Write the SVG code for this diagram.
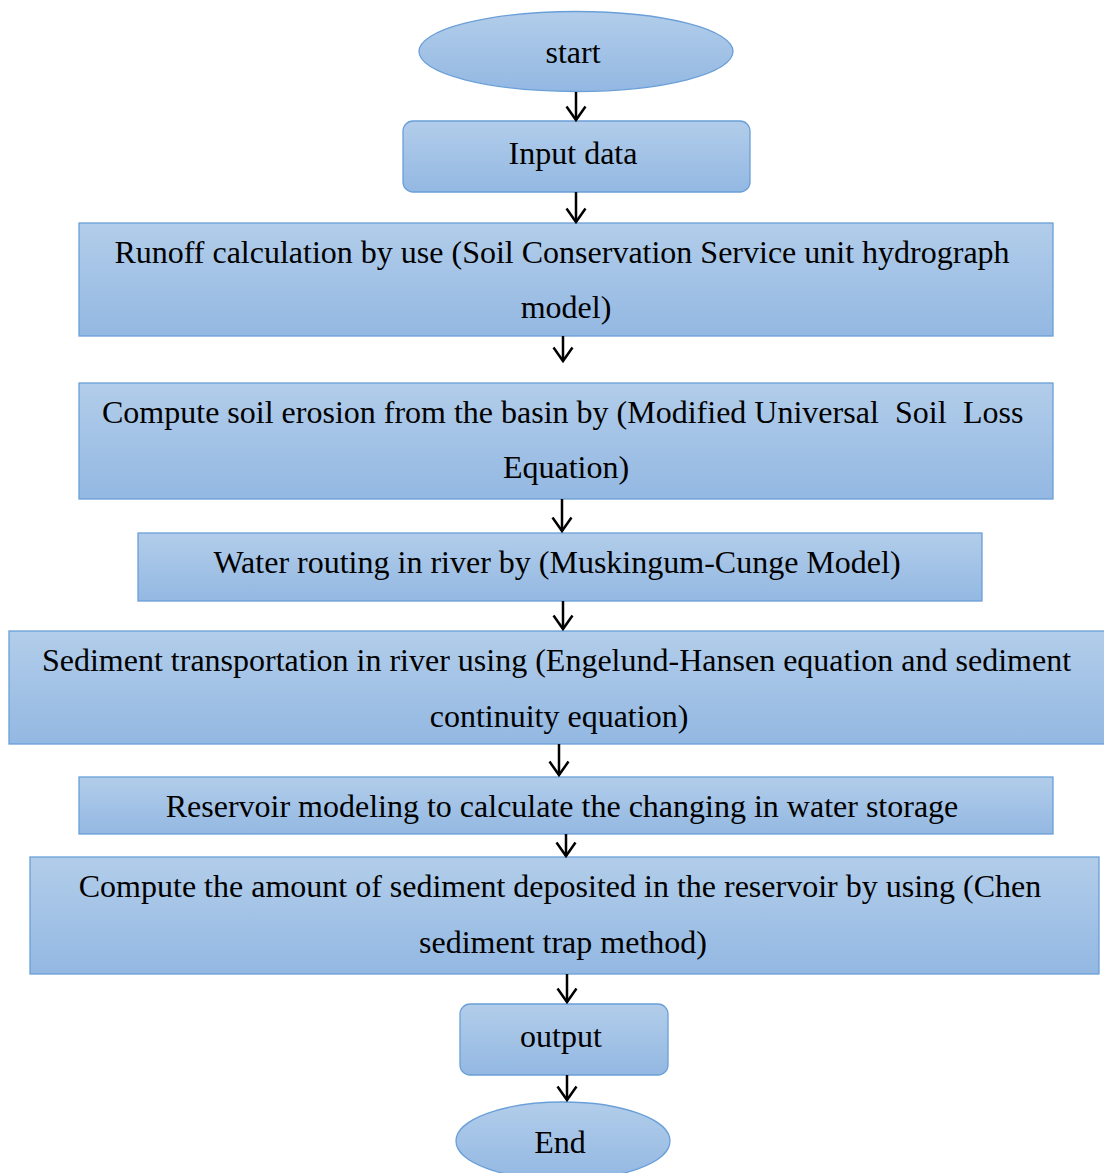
<svg xmlns="http://www.w3.org/2000/svg" width="1104" height="1173" viewBox="0 0 1104 1173">
<defs>
<linearGradient id="g" x1="0" y1="0" x2="0" y2="1">
<stop offset="0" stop-color="#b2cdea"/>
<stop offset="1" stop-color="#93b8e2"/>
</linearGradient>
<marker id="arr" viewBox="0 0 18 22" refX="15" refY="11" markerWidth="18" markerHeight="22" markerUnits="userSpaceOnUse" orient="auto">
<path d="M1.5,1.5 L15,11 L1.5,20.5" fill="none" stroke="#000" stroke-width="2.5"/>
</marker>
</defs>
<style>
.n{fill:url(#g);stroke:#6a9fd8;stroke-width:1.3}
.t{font-family:"Liberation Serif","Times New Roman",serif;font-size:32px;fill:#000;text-anchor:middle}
.s{text-anchor:start}
.c line{stroke:#000;stroke-width:2.5;marker-end:url(#arr)}
</style>
<rect width="1104" height="1173" fill="#fff"/>
<g id="start"><ellipse class="n" cx="576" cy="51.5" rx="157" ry="40"/><text class="t" x="573" y="63">start</text></g>
<g id="input"><rect class="n" x="403" y="121" width="347" height="71" rx="10"/><text class="t" x="573" y="164">Input data</text></g>
<g id="runoff"><rect class="n" x="79" y="223" width="974" height="113"/><text class="t" x="562" y="263">Runoff calculation by use (Soil Conservation Service unit hydrograph</text><text class="t" x="566" y="318">model)</text></g>
<g id="erosion"><rect class="n" x="79" y="383" width="974" height="116"/><text class="t s" x="102" y="423">Compute soil erosion from the basin by (Modified Universal</text><text class="t s" x="895" y="423">Soil</text><text class="t s" x="963" y="423">Loss</text><text class="t" x="566" y="478">Equation)</text></g>
<g id="water"><rect class="n" x="138" y="533" width="844" height="68"/><text class="t" x="557" y="573">Water routing in river by (Muskingum-Cunge Model)</text></g>
<g id="sediment"><rect class="n" x="9" y="631" width="1096" height="113"/><text class="t" x="556.5" y="671">Sediment transportation in river using (Engelund-Hansen equation and sediment</text><text class="t" x="559" y="727">continuity equation)</text></g>
<g id="reservoir"><rect class="n" x="79" y="777" width="974" height="57"/><text class="t" x="562" y="817">Reservoir modeling to calculate the changing in water storage</text></g>
<g id="deposit"><rect class="n" x="30" y="857" width="1069" height="117"/><text class="t" x="560" y="897">Compute the amount of sediment deposited in the reservoir by using (Chen</text><text class="t" x="563" y="953">sediment trap method)</text></g>
<g id="output"><rect class="n" x="460" y="1004" width="208" height="71" rx="10"/><text class="t" x="561" y="1047">output</text></g>
<g id="end"><ellipse class="n" cx="563" cy="1141" rx="107" ry="39"/><text class="t" x="560" y="1153">End</text></g>
<g class="c" id="connectors">
<line x1="576" y1="92" x2="576" y2="120"/>
<line x1="576" y1="192" x2="576" y2="222"/>
<line x1="563" y1="336" x2="563" y2="361"/>
<line x1="562" y1="499" x2="562" y2="531"/>
<line x1="563" y1="601" x2="563" y2="629"/>
<line x1="559" y1="744" x2="559" y2="775"/>
<line x1="566" y1="834" x2="566" y2="856"/>
<line x1="567" y1="974" x2="567" y2="1002"/>
<line x1="567" y1="1075" x2="567" y2="1100"/>
</g>
</svg>
